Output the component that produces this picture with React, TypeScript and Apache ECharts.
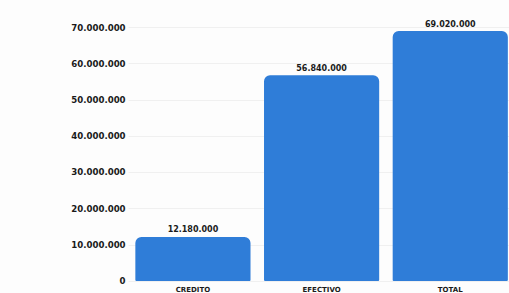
import React, { useEffect, useRef } from "react";
import * as echarts from "echarts";

const categories = ["CREDITO", "EFECTIVO", "TOTAL"];
const values = [12180000, 56840000, 69020000];
const yTicks = { min: 0, max: 70000000, interval: 10000000 };

const fmt = (v: number) => String(Math.round(v)).replace(/\B(?=(\d{3})+(?!\d))/g, ".");

export default function App() {
  const ref = useRef<HTMLDivElement>(null);
  useEffect(() => {
    if (!ref.current) return;
    const chart = echarts.init(ref.current, undefined, { renderer: "svg" });
    chart.setOption({
      animation: false,
      backgroundColor: "#fdfdfd",
      grid: { left: 128.6, top: 27.5, bottom: 12, width: 386, outerBoundsMode: "none" },
      xAxis: {
        type: "category",
        data: categories,
        axisLine: { show: false },
        axisTick: { show: false },
        axisLabel: {
          margin: 5,
          color: "#1a1a1a",
          fontFamily: "DejaVu Sans",
          fontWeight: "bold",
          fontSize: 7,
        },
      },
      yAxis: {
        type: "value",
        min: yTicks.min,
        max: yTicks.max,
        interval: yTicks.interval,
        axisLine: { show: false },
        axisTick: { show: false },
        splitLine: { show: true, lineStyle: { color: "#f0f0f0", width: 1 } },
        axisLabel: {
          margin: 3,
          color: "#1a1a1a",
          fontFamily: "DejaVu Sans",
          fontWeight: "bold",
          fontSize: 8.6,
          formatter: (v: number) => fmt(v),
        },
      },
      series: [
        {
          type: "bar",
          data: values,
          barCategoryGap: "10.5%",
          itemStyle: { color: "#2f7dd8", borderRadius: [6, 6, 1, 1] },
          label: {
            show: true,
            position: "top",
            distance: 3,
            color: "#1a1a1a",
            fontFamily: "DejaVu Sans",
            fontWeight: "bold",
            fontSize: 8,
            formatter: (p: any) => fmt(p.value),
          },
        },
      ],
    });
    return () => chart.dispose();
  }, []);
  return (
    <div
      ref={ref}
      style={{ width: 509, height: 293, position: "fixed", left: 0, top: 0 }}
    />
  );
}
